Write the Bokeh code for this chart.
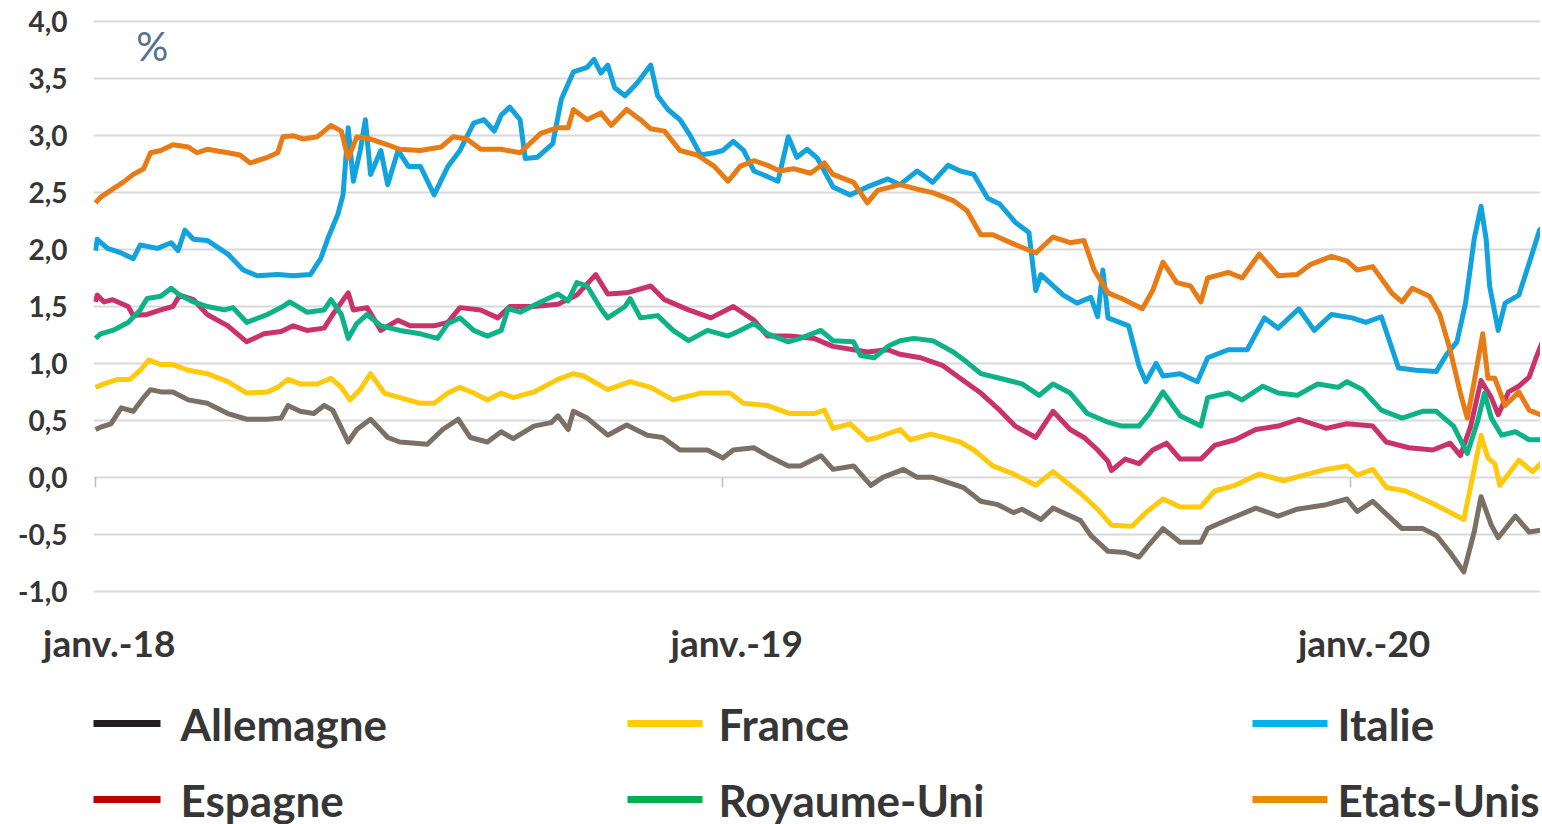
import numpy as np
from datetime import datetime, timedelta
from bokeh.plotting import figure
from bokeh.layouts import column
from bokeh.core.properties import value
from bokeh.models import (Range1d, FixedTicker, CustomJSTickFormatter, DatetimeAxis, Label)
from bokeh.embed import file_html
from bokeh.resources import INLINE

# ---------------- data ----------------
start_date = "2018-01-01"          # day 0 of the day offsets below

de_days = [0,3,9,15,22,28,32,38,45,54,65,77,88,100,108,112,119,127,133,138,147,152,160,170,177,193,202,211,218,228,236,243,255,265,269,275,278,286,298,309,321,330,340,356,365,371,383,391,403,410,422,429,441,451,458,470,478,487,505,515,525,534,539,550,557,573,579,589,599,607,613,621,631,643,647,659,675,688,699,716,728,734,743,750,760,772,780,788,796,802,806,812,816,826,834,842]
de_vals = [0.42,0.44,0.47,0.61,0.58,0.70,0.77,0.75,0.75,0.68,0.65,0.56,0.51,0.51,0.52,0.63,0.58,0.56,0.63,0.59,0.31,0.42,0.51,0.35,0.31,0.29,0.42,0.51,0.35,0.31,0.40,0.34,0.45,0.48,0.54,0.42,0.58,0.52,0.37,0.46,0.37,0.35,0.24,0.24,0.17,0.24,0.26,0.19,0.10,0.10,0.19,0.07,0.10,-0.07,0.00,0.07,0.00,0.00,-0.09,-0.21,-0.24,-0.31,-0.28,-0.37,-0.27,-0.38,-0.51,-0.65,-0.66,-0.70,-0.59,-0.45,-0.57,-0.57,-0.45,-0.37,-0.27,-0.34,-0.28,-0.24,-0.19,-0.30,-0.21,-0.31,-0.45,-0.45,-0.51,-0.66,-0.83,-0.48,-0.17,-0.42,-0.53,-0.34,-0.48,-0.46]

fr_days = [0,5,13,20,26,31,38,45,54,65,77,88,100,106,112,119,129,137,143,148,154,160,168,177,189,197,205,212,220,228,236,243,255,269,278,284,298,311,323,336,352,369,377,391,404,418,424,429,439,449,455,468,474,486,503,511,522,534,547,557,573,583,591,603,611,621,631,643,651,663,677,691,703,716,728,734,743,751,762,778,796,802,806,810,814,817,828,836,842]
fr_vals = [0.79,0.82,0.86,0.86,0.94,1.03,0.99,0.99,0.94,0.91,0.84,0.74,0.75,0.79,0.86,0.82,0.82,0.87,0.79,0.68,0.77,0.91,0.74,0.70,0.65,0.65,0.74,0.79,0.74,0.68,0.74,0.70,0.75,0.86,0.91,0.89,0.77,0.84,0.79,0.68,0.74,0.74,0.65,0.63,0.56,0.56,0.59,0.43,0.47,0.33,0.35,0.42,0.33,0.38,0.31,0.24,0.10,0.03,-0.07,0.05,-0.14,-0.28,-0.42,-0.43,-0.31,-0.19,-0.26,-0.26,-0.12,-0.07,0.03,-0.03,0.02,0.07,0.10,0.02,0.07,-0.09,-0.12,-0.23,-0.37,0.07,0.37,0.17,0.12,-0.07,0.15,0.05,0.14]

it_days = [0,1,7,15,22,26,36,44,48,52,57,65,77,86,94,106,115,125,131,135,141,144,147,150,154,157,160,166,170,176,182,189,197,205,212,220,226,232,236,241,247,250,257,266,271,278,286,290,294,298,302,308,315,323,327,333,340,346,352,360,365,371,377,383,391,397,403,408,414,420,429,439,449,461,468,478,487,496,503,511,519,526,535,543,547,550,563,571,579,583,586,589,601,607,611,617,621,631,641,647,659,670,680,688,700,709,719,731,739,748,758,768,780,786,792,797,802,806,809,811,816,820,828,834,840,842]
it_vals = [1.99,2.09,2.01,1.97,1.92,2.04,2.01,2.06,1.99,2.17,2.09,2.08,1.96,1.82,1.77,1.78,1.77,1.78,1.92,2.09,2.31,2.48,3.07,2.60,2.87,3.14,2.66,2.87,2.57,2.87,2.73,2.73,2.48,2.73,2.87,3.11,3.14,3.04,3.18,3.25,3.14,2.80,2.81,2.93,3.32,3.56,3.60,3.67,3.55,3.62,3.42,3.35,3.46,3.62,3.35,3.23,3.14,3.00,2.83,2.85,2.87,2.95,2.87,2.69,2.64,2.60,2.99,2.81,2.88,2.80,2.55,2.48,2.55,2.62,2.57,2.69,2.59,2.74,2.69,2.66,2.45,2.40,2.24,2.15,1.64,1.78,1.60,1.53,1.58,1.41,1.82,1.40,1.33,0.98,0.84,1.00,0.89,0.91,0.84,1.05,1.12,1.12,1.40,1.31,1.48,1.29,1.43,1.40,1.36,1.41,0.96,0.94,0.93,1.08,1.19,1.53,2.09,2.38,2.09,1.68,1.29,1.53,1.60,1.88,2.17,2.20]

es_days = [0,1,5,10,19,22,30,38,45,49,57,65,77,88,98,108,115,123,133,138,147,150,158,166,176,183,197,205,212,224,234,241,255,269,280,291,298,309,323,331,345,358,371,383,391,404,418,429,441,449,461,468,480,493,503,515,526,535,547,557,567,575,583,589,591,599,607,615,623,631,643,651,663,675,688,700,716,728,743,751,764,778,788,794,800,806,812,816,822,828,834,838,842]
es_vals = [1.54,1.60,1.54,1.56,1.50,1.42,1.43,1.47,1.50,1.60,1.56,1.43,1.33,1.19,1.26,1.28,1.33,1.29,1.31,1.43,1.62,1.47,1.49,1.29,1.38,1.33,1.33,1.36,1.49,1.47,1.40,1.50,1.50,1.52,1.60,1.78,1.61,1.62,1.68,1.56,1.47,1.40,1.50,1.38,1.24,1.24,1.22,1.15,1.12,1.10,1.12,1.08,1.05,0.98,0.87,0.74,0.59,0.45,0.35,0.58,0.42,0.35,0.24,0.14,0.06,0.16,0.12,0.24,0.30,0.16,0.16,0.28,0.33,0.42,0.45,0.51,0.43,0.47,0.45,0.31,0.26,0.24,0.30,0.19,0.45,0.85,0.70,0.55,0.75,0.80,0.88,1.05,1.20]

uk_days = [0,3,10,19,26,30,38,44,49,57,65,75,80,88,100,109,113,123,133,137,143,147,152,158,166,177,189,199,205,212,220,228,236,240,247,259,269,275,280,286,294,298,308,311,317,327,336,345,356,368,375,383,391,403,410,422,429,441,445,453,461,468,476,487,499,507,515,526,539,549,557,567,577,588,597,607,613,621,631,643,647,659,667,679,688,699,711,723,728,737,748,760,772,780,790,798,804,808,812,818,826,834,842]
uk_vals = [1.22,1.26,1.29,1.36,1.47,1.57,1.59,1.66,1.60,1.54,1.50,1.47,1.49,1.36,1.43,1.50,1.54,1.45,1.47,1.56,1.43,1.22,1.35,1.43,1.33,1.29,1.26,1.22,1.35,1.40,1.29,1.24,1.29,1.48,1.45,1.54,1.61,1.55,1.71,1.68,1.48,1.40,1.50,1.57,1.40,1.42,1.29,1.20,1.29,1.24,1.29,1.35,1.26,1.19,1.22,1.29,1.20,1.19,1.07,1.05,1.15,1.20,1.22,1.20,1.10,1.01,0.91,0.87,0.82,0.72,0.82,0.74,0.56,0.49,0.45,0.45,0.56,0.75,0.54,0.45,0.70,0.74,0.68,0.80,0.74,0.72,0.82,0.79,0.84,0.77,0.59,0.52,0.58,0.58,0.45,0.21,0.49,0.74,0.52,0.37,0.40,0.33,0.33]

us_days = [0,3,10,16,22,28,32,38,45,54,59,65,77,84,90,100,106,109,115,121,129,137,143,147,152,160,170,177,189,201,208,216,224,236,247,259,269,275,278,286,294,300,309,317,323,331,340,350,360,368,375,383,391,398,406,416,424,429,441,449,455,468,478,487,499,507,515,522,534,547,557,567,575,581,589,597,609,615,621,629,637,643,647,659,667,677,688,699,707,719,728,734,743,754,760,766,776,782,788,794,798,802,807,810,814,820,828,834,842]
us_vals = [2.41,2.46,2.53,2.59,2.66,2.71,2.85,2.87,2.92,2.90,2.85,2.88,2.85,2.83,2.76,2.81,2.85,2.99,3.00,2.97,2.99,3.09,3.04,2.80,2.99,2.97,2.92,2.88,2.87,2.90,2.99,2.97,2.88,2.88,2.85,3.02,3.07,3.07,3.23,3.14,3.20,3.09,3.23,3.14,3.06,3.04,2.87,2.83,2.73,2.60,2.73,2.78,2.74,2.69,2.71,2.67,2.76,2.66,2.59,2.41,2.52,2.57,2.53,2.50,2.43,2.34,2.13,2.13,2.05,1.97,2.11,2.06,2.08,1.82,1.62,1.57,1.48,1.64,1.89,1.71,1.68,1.54,1.75,1.80,1.75,1.96,1.77,1.78,1.87,1.94,1.90,1.82,1.85,1.62,1.54,1.66,1.59,1.43,1.12,0.74,0.52,0.84,1.26,0.87,0.87,0.63,0.75,0.59,0.54]

series_names = ["Allemagne", "France", "Italie", "Espagne", "Royaume-Uni", "Etats-Unis"]
series_days = [de_days, fr_days, it_days, es_days, uk_days, us_days]
series_vals = [de_vals, fr_vals, it_vals, es_vals, uk_vals, us_vals]

y_ticks = [-1.0, -0.5, 0.0, 0.5, 1.0, 1.5, 2.0, 2.5, 3.0, 3.5, 4.0]
x_tick_dates = ["2018-01-01", "2019-01-01", "2020-01-01"]
x_tick_labels = ["janv.-18", "janv.-19", "janv.-20"]
unit_label = "%"

# ---------------- styles ----------------
line_colors = ["#7a7066", "#ffc90e", "#12a2de", "#c9336a", "#0db287", "#e97b14"]
legend_colors = ["#231f20", "#ffcc00", "#00b0f0", "#c00000", "#00b050", "#e88b00"]
FONT = "Lato"
TEXT = "#363636"

DAY_MS = 86400000.0
EPOCH = datetime(1970, 1, 1)

def date_ms(s, offset_days=0.0):
    d = datetime.strptime(s, "%Y-%m-%d") + timedelta(days=offset_days)
    return (d - EPOCH).total_seconds() * 1000.0

t0 = date_ms(start_date)

def days_ms(days):
    return [t0 + d * DAY_MS for d in days]

W = 1540
LEFT = 93
x_range = Range1d(start=t0 - 1.16 * DAY_MS, end=t0 + 840.6 * DAY_MS)
y_range = Range1d(start=-1.02, end=4.02)

p = figure(width=W, height=688, x_axis_type="datetime",
           x_range=x_range, y_range=y_range,
           output_backend="svg", toolbar_location=None,
           min_border_left=LEFT, min_border_right=0,
           min_border_top=19, min_border_bottom=95)
p.outline_line_color = None
p.background_fill_color = "white"
p.border_fill_color = "white"

# grid
p.xgrid.visible = False
p.ygrid.ticker = FixedTicker(ticks=y_ticks)
p.ygrid.grid_line_color = "#d9d9d9"
p.ygrid.grid_line_width = 2

# y axis
yax = p.yaxis[0]
yax.ticker = FixedTicker(ticks=y_ticks)
yax.formatter = CustomJSTickFormatter(code="return tick.toFixed(1).replace('.', ',');")
yax.axis_line_color = None
yax.major_tick_line_color = None
yax.minor_tick_line_color = None
yax.major_tick_out = 0
yax.major_tick_in = 0
yax.major_label_standoff = 26
yax.major_label_text_font = FONT
yax.major_label_text_font_style = "bold"
yax.major_label_text_font_size = "28px"
yax.major_label_text_color = TEXT

# x label axis (labels only)
tick_ms = [date_ms(s) for s in x_tick_dates]
label_ms = [date_ms(s, 8) for s in x_tick_dates]
xax = p.xaxis[0]
xax.ticker = FixedTicker(ticks=label_ms)
xax.formatter = CustomJSTickFormatter(
    args=dict(pos_list=label_ms, text_list=x_tick_labels),
    code="""let best = 0, dist = Infinity;
for (let i = 0; i < pos_list.length; i++) {
  const e = Math.abs(pos_list[i] - tick);
  if (e < dist) { dist = e; best = i; }
}
return text_list[best];""")
xax.axis_line_color = None
xax.major_tick_line_color = None
xax.minor_tick_line_color = None
xax.major_tick_out = 0
xax.major_tick_in = 0
xax.major_label_standoff = 26
xax.major_label_text_font = FONT
xax.major_label_text_font_style = "bold"
xax.major_label_text_font_size = "37px"
xax.major_label_text_color = TEXT

# zero-line tick marks
zax = DatetimeAxis(fixed_location=0, ticker=FixedTicker(ticks=tick_ms))
zax.axis_line_color = None
zax.major_tick_line_color = "#bfbfbf"
zax.major_tick_line_width = 1.5
zax.major_tick_out = 10
zax.major_tick_in = 0
zax.minor_tick_line_color = None
zax.major_label_text_font_size = "0px"
zax.major_label_standoff = 0
zax.major_label_text_alpha = 0
p.add_layout(zax, "below")

# series lines
for days, vals, col in zip(series_days, series_vals, line_colors):
    p.line(x=days_ms(days), y=vals, line_color=col, line_width=5, line_join="round")

# unit label
p.add_layout(Label(x=t0 + 33 * DAY_MS, y=3.79, text=unit_label, text_font=FONT,
                   text_font_size="40px", text_color="#56708e",
                   text_align="center", text_baseline="middle"))

# ---------------- legend figure (3 columns x 2 rows), units = pixels ----------------
LH = 136
lg = figure(width=W, height=LH, x_range=Range1d(LEFT, W), y_range=Range1d(0, LH),
            x_axis_location=None, y_axis_location=None,
            output_backend="svg", toolbar_location=None,
            min_border_left=LEFT, min_border_right=0,
            min_border_top=0, min_border_bottom=0)
lg.outline_line_color = None
lg.xgrid.visible = False
lg.ygrid.visible = False

col_x = [85, 627, 1252]        # left end of each legend column's key line
col_gap = [20, 16, 10]         # key-to-label gap per column
row_y = [101, 25]              # vertical centre of each legend row
key_len = 75
order_col = [0, 1, 2, 0, 1, 2]
order_row = [0, 0, 0, 1, 1, 1]
kx0 = [col_x[c] for c in order_col]
kx1 = [col_x[c] + key_len for c in order_col]
ky = [row_y[r] for r in order_row]
tx = [col_x[c] + key_len + col_gap[c] for c in order_col]

lg.segment(x0=kx0, y0=ky, x1=kx1, y1=ky, line_color=legend_colors, line_width=7,
           line_cap="butt")
lg.text(x=tx, y=ky, text=series_names, text_font=value(FONT), text_font_style="bold",
        text_font_size="44px", text_color=TEXT, text_align="left",
        text_baseline="middle")

layout = column(p, lg, spacing=0)
open("out.html", "w").write(file_html(layout, INLINE))
